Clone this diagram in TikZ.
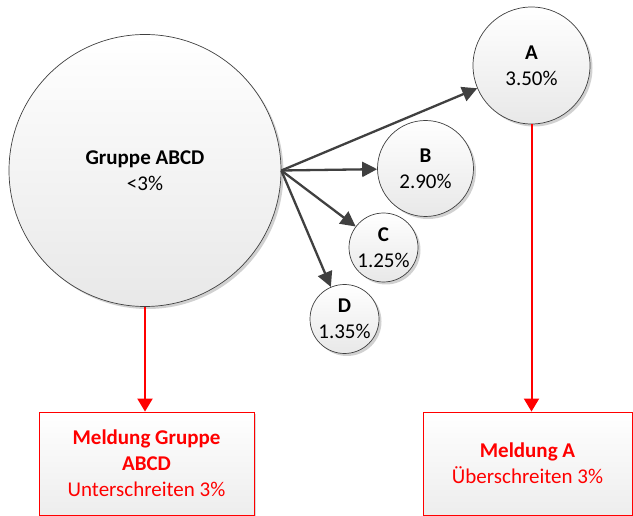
\documentclass[tikz,border=0pt]{standalone}
\usepackage{fontspec}
\setmainfont{Carlito}
\usetikzlibrary{arrows.meta,shadows}
\definecolor{dk}{HTML}{404040}
\definecolor{rd}{HTML}{FF0000}
\tikzset{
  bubble/.style={circle,draw=dk,line width=0.7pt,inner sep=0pt,align=center,
    top color=white,bottom color=black!9,
    drop shadow={shadow xshift=2.5pt,shadow yshift=-2.5pt,opacity=0.18,fill=black},
    font=\fontsize{21}{26}\selectfont},
  msgbox/.style={rectangle,draw=rd,line width=0.8pt,inner sep=0pt,align=center,
    top color=white,bottom color=black!7,text=rd,
    drop shadow={shadow xshift=2pt,shadow yshift=-2pt,opacity=0.15,fill=black},
    font=\fontsize{21}{26}\selectfont},
  grayarrow/.style={draw=dk,line width=2.3pt,-{Triangle[length=15pt,width=15pt]}},
  redarrow/.style={draw=rd,line width=2pt,-{Triangle[length=13pt,width=15pt]}}
}
\begin{document}
\begin{tikzpicture}[x=1pt,y=-1pt]
\useasboundingbox (0,0) rectangle (633,516);
\node[bubble,minimum size=272pt] (G) at (145,170.5) {\textbf{Gruppe ABCD}\\<3\%};
\node[bubble,minimum size=117pt] (A) at (531.5,65.5) {\textbf{A}\\3.50\%};
\node[bubble,minimum size=96pt] (B) at (425.5,168.5) {\textbf{B}\\2.90\%};
\node[bubble,minimum size=69pt] (C) at (383.5,247.5) {\textbf{C}\\1.25\%};
\node[bubble,minimum size=69pt] (D) at (344.5,319) {\textbf{D}\\1.35\%};
\node[msgbox,minimum width=215pt,minimum height=103pt] (M1) at (146.5,463.5)
  {\textbf{Meldung Gruppe}\\\textbf{ABCD}\\Unterschreiten 3\%};
\node[msgbox,minimum width=209pt,minimum height=103pt] (M2) at (527.5,463.5)
  {\textbf{Meldung A}\\Überschreiten 3\%};
\draw[grayarrow] (G.east) -- (A);
\draw[grayarrow] (G.east) -- (B);
\draw[grayarrow] (G.east) -- (C);
\draw[grayarrow] (G.east) -- (D);
\draw[redarrow] (G.south) -- (G.south |- M1.north);
\draw[redarrow] (A.south) -- (A.south |- M2.north);
\end{tikzpicture}
\end{document}
